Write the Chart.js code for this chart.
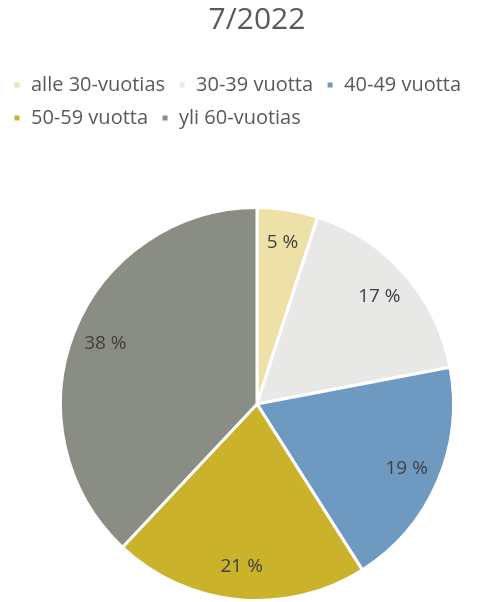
<!DOCTYPE html>
<html>
<head>
<meta charset="utf-8">
<script src="https://cdn.jsdelivr.net/npm/chart.js@4"></script>
<style>
  html, body { margin: 0; padding: 0; background: #fff; }
  #wrap { width: 498px; height: 602px; position: relative; }
</style>
</head>
<body>
<div id="wrap"><canvas id="pieCanvas"></canvas></div>
<script>
const otsikko = "7/2022";
const ryhmat = ["alle 30-vuotias", "30-39 vuotta", "40-49 vuotta", "50-59 vuotta", "yli 60-vuotias"];
const osuudet = [5, 17, 19, 21, 38];
const varit = ["#EDE1A8", "#E8E8E7", "#6E9AC2", "#CAB22A", "#898D83"];

const FONT = "'Open Sans', sans-serif";
const TEXT_COLOR = "#595959";

// prosenttitekstit sektorien sisään
const sliceLabels = {
  id: "sliceLabels",
  afterDatasetsDraw(chart) {
    const { ctx } = chart;
    const meta = chart.getDatasetMeta(0);
    ctx.save();
    ctx.font = "19px " + FONT;
    ctx.fillStyle = "#404040";
    ctx.textAlign = "center";
    ctx.textBaseline = "middle";
    meta.data.forEach((arc, i) => {
      const { x, y, startAngle, endAngle, outerRadius } = arc.getProps(
        ["x", "y", "startAngle", "endAngle", "outerRadius"], true);
      const mid = (startAngle + endAngle) / 2;
      const r = outerRadius * 0.83;
      ctx.fillText(osuudet[i] + " %", x + Math.cos(mid) * r, y + Math.sin(mid) * r);
    });
    ctx.restore();
  },
};

// lisää tilaa selitteen alle ja siirrä selite vasempaan reunaan
const legendLayout = {
  id: "legendLayout",
  beforeInit(chart) {
    const fit = chart.legend.fit;
    chart.legend.fit = function () {
      fit.bind(chart.legend)();
      this.height += 68;
    };
  },
  afterLayout(chart) {
    chart.legend.left -= 16;
  },
};

const config = {
  type: "pie",
  data: {
    labels: ryhmat,
    datasets: [
      {
        data: osuudet,
        backgroundColor: varit,
        borderColor: "#ffffff",
        borderWidth: 3,
      },
    ],
  },
  options: {
    responsive: true,
    maintainAspectRatio: false,
    animation: false,
    layout: {
      padding: { left: 16, right: 0, top: 0, bottom: 0 },
    },
    plugins: {
      title: {
        display: true,
        text: otsikko,
        color: TEXT_COLOR,
        font: { family: FONT, size: 30, weight: "normal" },
        padding: { top: 2, bottom: 24 },
      },
      legend: {
        position: "top",
        align: "start",
        labels: {
          color: TEXT_COLOR,
          font: { family: FONT, size: 20 },
          boxWidth: 8,
          boxHeight: 8,
          padding: 13,
        },
      },
      tooltip: { enabled: false },
    },
  },
  plugins: [legendLayout, sliceLabels],
};

new Chart(document.getElementById("pieCanvas"), config);
</script>
</body>
</html>
